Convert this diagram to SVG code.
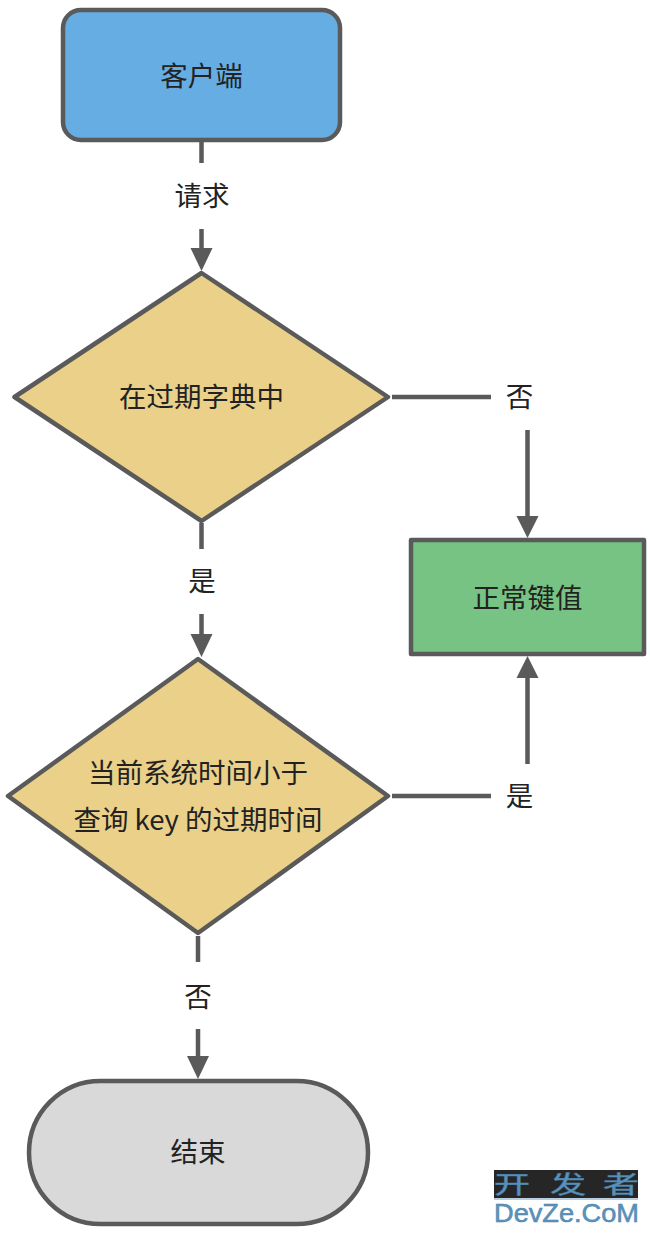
<svg xmlns="http://www.w3.org/2000/svg" width="650" height="1234" viewBox="0 0 650 1234">
<style>
text{font-family:"Noto Sans CJK SC","Liberation Sans",sans-serif;font-size:27.500px;fill:#222;text-anchor:middle;dominant-baseline:central}
.n{stroke:#5a5a5a;stroke-width:4.500;stroke-linejoin:round}
.c{fill:none;stroke:#5a5a5a;stroke-width:4.500}
.h{fill:#5a5a5a}
.w{fill:#5b93bd;stroke:#4a83ab;stroke-width:.5;text-anchor:start;dominant-baseline:auto}
</style>
<rect width="650" height="1234" fill="#fff"/>
<g id="connectors">
<path class="c" d="M201.500 141V163M201.500 229V252"/>
<path class="h" d="M190.500 248H212.500L201.500 271Z"/>
<path class="c" d="M201.500 523V549M201.500 614V637"/>
<path class="h" d="M190.500 634H212.500L201.500 657Z"/>
<path class="c" d="M198 936V962M198 1029V1060"/>
<path class="h" d="M187 1056H209L198 1079Z"/>
<path class="c" d="M392 397H491M527.500 430V519"/>
<path class="h" d="M516.500 516H538.500L527.500 538Z"/>
<path class="c" d="M392 796H491M527.500 764V676"/>
<path class="h" d="M516.500 678H538.500L527.500 656Z"/>
</g>
<g id="labels">
<text x="202" y="193.500">请求</text>
<text x="519.500" y="395">否</text>
<text x="202" y="579">是</text>
<text x="519.500" y="794">是</text>
<text x="198" y="995">否</text>
</g>
<g id="client"><rect class="n" x="63" y="10" width="277" height="130" rx="18" fill="#66ade3"/><text x="201.500" y="74">客户端</text></g>
<g id="check-expires"><path class="n" d="M201.500 273L388 397L201.500 521L14.500 397Z" fill="#ead088"/><text x="201.500" y="395">在过期字典中</text></g>
<g id="normal-key"><rect class="n" x="411" y="540" width="233" height="114" fill="#77c383"/><text x="527.500" y="596">正常键值</text></g>
<g id="check-time"><path class="n" d="M198 659L388 796L198 933L8 796Z" fill="#ead088"/><text x="198" y="771">当前系统时间小于</text><text x="198" y="818">查询 key 的过期时间</text></g>
<g id="end"><rect class="n" x="29" y="1081" width="339" height="143" rx="71.500" fill="#d9d9d9"/><text x="198" y="1150">结束</text></g>
<g id="watermark">
<rect x="494" y="1170" width="144" height="28" fill="#262626"/>
<rect x="494" y="1198.500" width="144" height="1" fill="#6f9dc0"/>
<text class="w" transform="translate(494 1192.500) scale(1.500 1)" style="font-size:24px" x="0" y="0">开</text>
<text class="w" transform="translate(550 1192.500) scale(1.500 1)" style="font-size:24px" x="0" y="0">发</text>
<text class="w" transform="translate(603 1192.500) scale(1.500 1)" style="font-size:24px" x="0" y="0">者</text>
<text class="w" x="494" y="1222" style="font-size:25px;font-family:'Liberation Sans',sans-serif" textLength="145" lengthAdjust="spacingAndGlyphs">DevZe.CoM</text>
</g>
</svg>
